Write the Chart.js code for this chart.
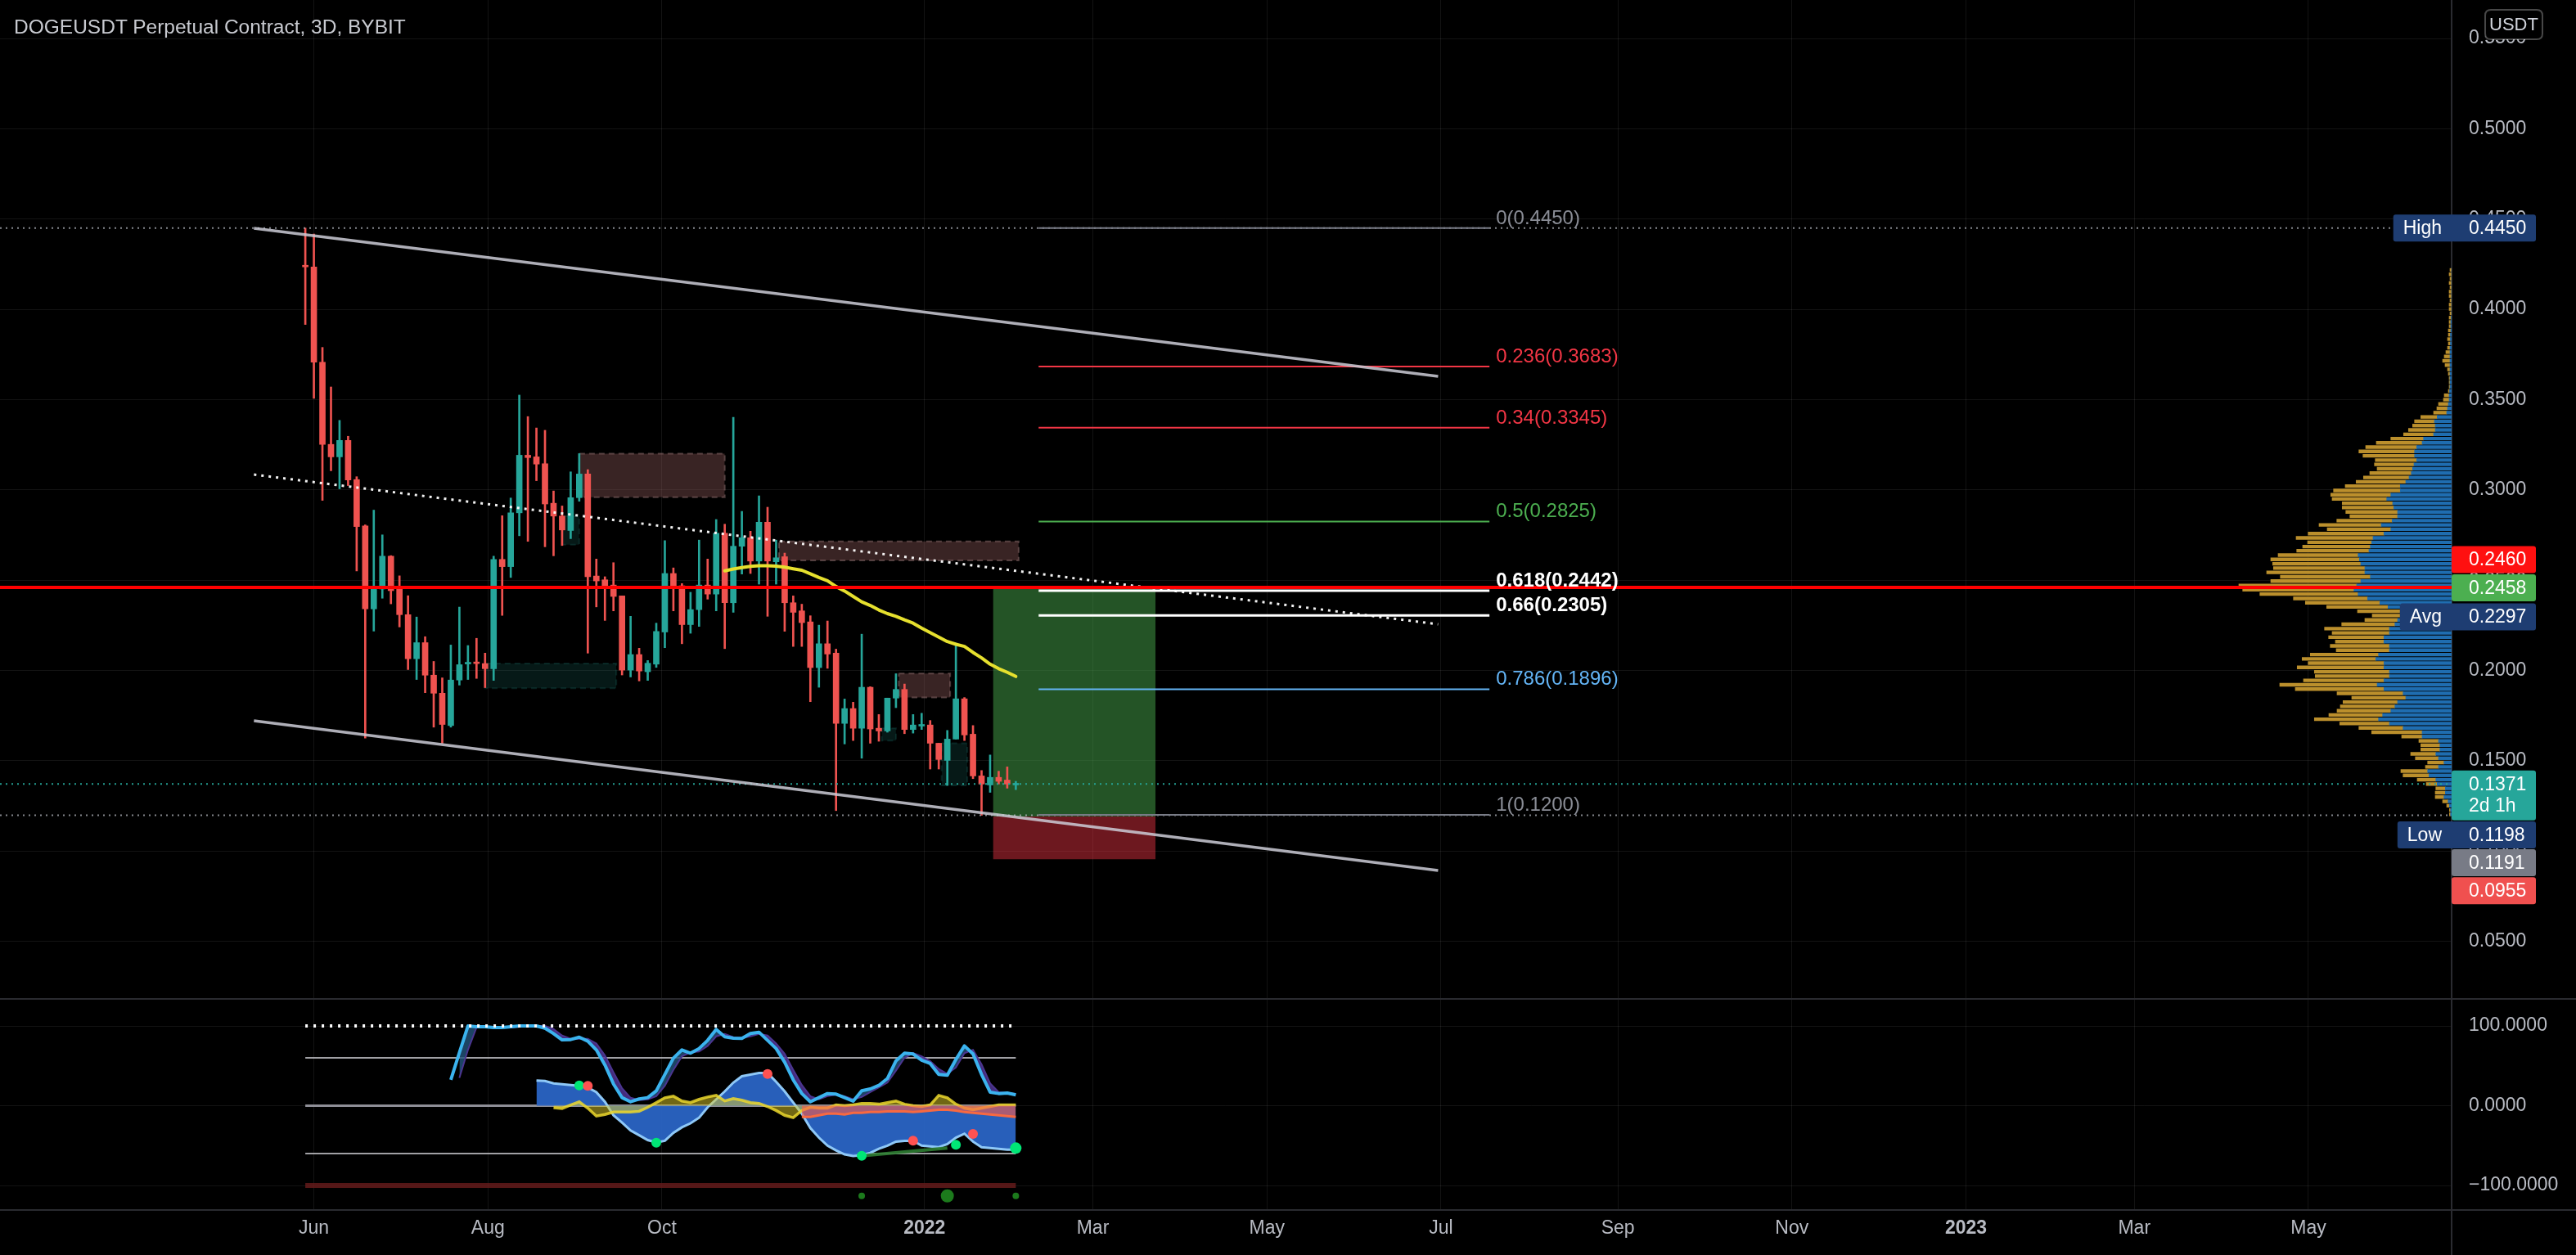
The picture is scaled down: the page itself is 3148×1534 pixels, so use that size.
<!DOCTYPE html>
<html><head><meta charset="utf-8"><title>DOGEUSDT Perpetual Contract, 3D, BYBIT</title>
<script src="https://cdn.jsdelivr.net/npm/chart.js@4.4.1/dist/chart.umd.min.js"></script>
<style>
html,body{margin:0;padding:0;background:#000;width:3148px;height:1534px;overflow:hidden;}
#wrap{position:relative;width:3148px;height:1534px;background:#000;}
canvas{position:absolute;left:0;}
#cPrice{top:0;}
#cInd{top:1221px;}
.sep{position:absolute;background:#2a2b30;}
#title{position:absolute;left:17px;top:19px;font:24.5px "Liberation Sans",Arial,sans-serif;color:#c8cad0;white-space:nowrap;}
</style></head>
<body>
<div id="wrap">
<canvas id="cPrice" width="3148" height="1221"></canvas>
<canvas id="cInd" width="3148" height="313"></canvas>
<div class="sep" style="left:0;top:1220px;width:3148px;height:2px"></div>
<div class="sep" style="left:0;top:1478px;width:3148px;height:2px"></div>
<div class="sep" style="left:2995px;top:1479px;width:2px;height:55px"></div>
<div id="title">DOGEUSDT Perpetual Contract, 3D, BYBIT</div>
</div>
<script>
// ================= DATA =================
const dates = ['2021-05-29','2021-06-01','2021-06-04','2021-06-07','2021-06-10','2021-06-13','2021-06-16','2021-06-19','2021-06-22','2021-06-25',
'2021-06-28','2021-07-01','2021-07-04','2021-07-07','2021-07-10','2021-07-13','2021-07-16','2021-07-19','2021-07-22','2021-07-25',
'2021-07-28','2021-07-31','2021-08-03','2021-08-06','2021-08-09','2021-08-12','2021-08-15','2021-08-18','2021-08-21','2021-08-24',
'2021-08-27','2021-08-30','2021-09-02','2021-09-05','2021-09-08','2021-09-11','2021-09-14','2021-09-17','2021-09-20','2021-09-23',
'2021-09-26','2021-09-29','2021-10-02','2021-10-05','2021-10-08','2021-10-11','2021-10-14','2021-10-17','2021-10-20','2021-10-23',
'2021-10-26','2021-10-29','2021-11-01','2021-11-04','2021-11-07','2021-11-10','2021-11-13','2021-11-16','2021-11-19','2021-11-22',
'2021-11-25','2021-11-28','2021-12-01','2021-12-04','2021-12-07','2021-12-10','2021-12-13','2021-12-16','2021-12-19','2021-12-22',
'2021-12-25','2021-12-28','2021-12-31','2022-01-03','2022-01-06','2022-01-09','2022-01-12','2022-01-15','2022-01-18','2022-01-21',
'2022-01-24','2022-01-27','2022-01-30','2022-02-02'];

const open = [.4240,.4235,.3707,.3252,.3183,.3274,.3057,.2800,.2341,.2451,
.2633,.2451,.2309,.2065,.2154,.1974,.1874,.1695,.1947,.2036,
.2045,.2038,.2010,.2615,.2575,.2873,.3192,.3183,.3145,.2926,
.2855,.2775,.2957,.3088,.2523,.2502,.2473,.2413,.2002,.2088,
.1993,.2035,.2213,.2537,.2469,.2254,.2337,.2473,.2423,.2760,
.2375,.2688,.2735,.2606,.2821,.2602,.2630,.2375,.2330,.2269,
.2016,.2148,.2096,.1707,.1789,.1680,.1907,.1680,.1665,.1847,
.1895,.1673,.1692,.1698,.1597,.1502,.1620,.1843,.1647,.1416,
.1366,.1408,.1393,.1366];
const high = [.4450,.4417,.3789,.3570,.3385,.3297,.3073,.2806,.2888,.2751,
.2636,.2524,.2414,.2296,.2187,.2050,.1959,.2141,.2351,.2138,
.2178,.2096,.2633,.2857,.2955,.3525,.3406,.3343,.3330,.2994,
.2911,.3100,.3201,.3112,.2617,.2519,.2597,.2413,.2300,.2123,
.2055,.2262,.2719,.2568,.2481,.2433,.2722,.2617,.2836,.2810,
.3402,.2881,.2771,.2967,.2904,.2722,.2650,.2413,.2367,.2303,
.2251,.2274,.2118,.1842,.1824,.2201,.1910,.1756,.1847,.1982,
.1925,.1756,.1763,.1723,.1597,.1668,.2152,.1850,.1695,.1446,
.1532,.1442,.1466,.1386];
const low = [.3916,.3507,.2942,.3106,.3006,.3024,.2551,.1626,.2218,.2400,
.2369,.2241,.2005,.1950,.1877,.1686,.1597,.1686,.1919,.1950,
.1956,.1905,.1945,.2305,.2515,.2746,.2715,.3051,.2685,.2635,
.2692,.2730,.2937,.2096,.2352,.2277,.2330,.1975,.1964,.1942,
.1945,.2017,.2126,.2330,.2148,.2206,.2244,.2395,.2330,.2121,
.2322,.2534,.2537,.2478,.2300,.2478,.2217,.2133,.2133,.1827,
.1907,.2012,.1224,.1593,.1612,.1514,.1597,.1608,.1658,.1794,
.1650,.1653,.1673,.1454,.1454,.1363,.1620,.1612,.1401,.1198,
.1325,.1371,.1348,.1340];
const close = [.4235,.3707,.3252,.3183,.3274,.3055,.2797,.2341,.2451,.2633,
.2442,.2309,.2065,.2154,.1974,.1874,.1701,.1947,.2032,.2045,
.2038,.2010,.2615,.2575,.2873,.3192,.3179,.3143,.2922,.2855,
.2778,.2957,.3088,.2519,.2496,.2469,.2410,.2002,.2088,.1997,
.2040,.2216,.2537,.2466,.2254,.2337,.2473,.2423,.2760,.2375,
.2688,.2735,.2606,.2821,.2606,.2624,.2375,.2322,.2265,.2016,
.2148,.2091,.1707,.1789,.1680,.1907,.1676,.1665,.1847,.1895,
.1673,.1698,.1698,.1597,.1507,.1620,.1843,.1643,.1416,.1371,
.1408,.1386,.1371,.1371];

// moving average (yellow), candles 50..84
const maStart = 50;
const maValues = [0.2552,0.2562,0.2570,0.2577,0.2580,0.2580,0.2578,0.2572,0.2563,0.2555,0.2535,0.2515,0.2497,0.2465,0.2440,0.2410,0.2380,0.2360,0.2335,0.2315,0.2300,0.2280,0.2262,0.2235,0.2210,0.2185,0.2160,0.2145,0.2133,0.2100,0.2070,0.2035,0.2010,0.1990,0.1967];

// x-axis tick labels
const tickDates = ['2021-06-01','2021-08-01','2021-10-01','2022-01-01','2022-03-01','2022-05-01','2022-07-01','2022-09-01','2022-11-01','2023-01-01','2023-03-01','2023-05-01'];
const tickLabels = ['Jun','Aug','Oct','2022','Mar','May','Jul','Sep','Nov','2023','Mar','May'];
const priceTicks = [0.05,0.10,0.15,0.20,0.25,0.30,0.35,0.40,0.45,0.50,0.55];
const oscTicks = [100,0,-100];

// channel drawing
const chStart = '2021-05-11', chEnd = '2022-06-30';
const chUpper = [0.4449, 0.3629];
const chLower = [0.1721, 0.0892];
const chMid = [0.3085, 0.2256];

// horizontal levels
const hlHigh = 0.4450, hlLow = 0.1198, hlLast = 0.1371, hlRed = 0.2460;

// fibonacci retracement
const fibStart = '2022-02-10', fibEnd = '2022-07-18';
const fibLevels = [0, 0.236, 0.34, 0.5, 0.618, 0.66, 0.786, 1];
const fibPrices = [0.4450, 0.3683, 0.3345, 0.2825, 0.2442, 0.2305, 0.1896, 0.1200];
const fibColors = ['#787b86','#f23645','#f23645','#4caf50','#ffffff','#ffffff','#64b5f6','#787b86'];

// long position tool
const posStart = '2022-01-25', posEnd = '2022-03-23';
const posEntry = 0.1191, posTarget = 0.2458, posStop = 0.0955;

// order blocks
const obStart = ['2021-09-02','2021-11-11','2021-12-23','2021-07-31','2021-08-27','2021-12-17','2022-01-07'];
const obEnd   = ['2021-10-23','2022-02-03','2022-01-10','2021-09-15','2021-09-02','2021-12-22','2022-01-16'];
const obTop   = [0.3201,0.2715,0.1983,0.2039,0.2855,0.1680,0.1597];
const obBottom= [0.2960,0.2609,0.1851,0.1901,0.2697,0.1612,0.1363];
const obKind  = ['supply','supply','supply','demand','demand','demand','demand'];

// volume profile (visible range) rows
const vpPrice = [0.4218,0.4194,0.4170,0.4146,0.4122,0.4098,0.4074,0.4050,0.4026,0.4002,0.3978,0.3954,0.3930,0.3907,0.3883,0.3859,0.3835,0.3811,0.3787,0.3763,0.3739,0.3715,0.3691,0.3667,0.3643,0.3619,0.3596,0.3572,0.3548,0.3524,0.3500,0.3476,0.3452,0.3428,
0.3404,0.3380,0.3356,0.3332,0.3308,0.3284,0.3261,0.3237,0.3213,0.3189,0.3165,0.3141,0.3117,0.3093,0.3069,0.3045,0.3021,0.2997,0.2973,0.2950,
0.2926,0.2902,0.2878,0.2854,0.2830,0.2806,0.2782,0.2758,0.2734,0.2710,0.2686,0.2663,0.2639,0.2615,0.2591,0.2567,0.2543,0.2519,0.2495,0.2471,
0.2447,0.2423,0.2399,0.2375,0.2352,0.2328,0.2304,0.2280,0.2256,0.2232,0.2208,0.2184,0.2160,0.2136,0.2112,0.2088,0.2064,0.2041,0.2017,0.1993,
0.1969,0.1945,0.1921,0.1897,0.1873,0.1849,0.1825,0.1801,0.1777,0.1754,0.1730,0.1706,0.1682,0.1658,0.1634,0.1610,0.1586,0.1562,0.1538,0.1514,
0.1490,0.1466,0.1443,0.1419,0.1395,0.1371,0.1347,0.1323,0.1299,0.1275,0.1251,0.1227,0.1203];
const vpTotal = [2,3,2,3,2,3,3,2,3,3,2,3,3,3,4,4,5,4,5,7,9,11,8,5,4,3,3,3,4,9,10,16,18,22,
37.7,45.3,47.7,52.7,58.7,74.3,92,105,113.3,108.3,93.3,94.3,91,100,107.7,116.7,130,144.3,147.7,146,
133.7,133.7,129.3,124.3,140.3,162,152,175.3,190,176,182,189.3,212,221,218.7,217.7,226,209.3,221,260,
255.3,234.3,193.3,178.7,152.7,115,97,106,134.3,155.3,146,150.3,142,148.3,141,172.7,182.7,175.3,188.7,167.7,
166.7,181,210,191,140,122,132.7,136,140,150,167.7,136.7,113.3,97.7,61,40,37.7,37.7,50,44.3,
29.3,32,62,59.3,42,31,19.3,20,20,11,6,2.7,2.7];
const vpUp = [0,0,0,0,0,0,0,0,0,0,0,0.5,1,1,1,1.5,1.5,1.5,2,2,2,2,2,2,2,2,2,2,2.5,3,3,4,5,6,
17.7,21,20,20,22,34.3,36,42.7,45.3,45.3,42.7,46,47.7,49.3,52,56,62.7,62.7,74.3,79.3,
72,70.7,66,66,72.7,86,74.3,82.7,96,97.7,99.3,101,114.3,112.7,111,106,106,99.3,111,116,
119.3,114.3,102.7,87.7,77.7,62.7,61,66,69.3,76,76,82.7,82.7,76,76,89.3,92.7,82.7,82.7,76,
76,82.7,91,82.7,59.3,56,66,69.3,74.3,84.3,89.3,76,59.3,36,36,16,14.3,14.3,19.3,16,
9.3,16,29.3,27.7,19.3,17.7,7.7,7.7,9.3,4.3,2.7,1.3,1.3];

// price-axis labels
const lblValue = [0.1371, 0.2458, 0.2297, 0.4450, 0.1198, 0.1191, 0.0955, 0.2460];
const lblColor = ['#26a69a','#4caf50','#1e3d72','#1e3d72','#1e3d72','#787b86','#f0504f','#ff1010'];
const lblTag   = ['','','Avg','High','Low','','',''];
const lblSub   = ['2d 1h','','','','','','',''];

// oscillator pane (values by candle number)
const wt1Start = 18;
const wt1 = [32.4,66.6,100,99,99,98,98,99,100,100,100,97.3,90.5,82.6,83,86,81,70,51.2,27.3,10.2,5,8.5,10.2,18.7,39.2,59.7,70,65.9,71.7,82,95.6,86.4,84.7,84.4,90.5,92.2,82,71.7,54.6,32.4,15.3,5,10.2,15.3,14.6,10.2,5.7,18.7,21.1,25.5,34.1,56.3,65.9,64.9,57,52.9,39.2,38.2,58,75.1,64.9,39.2,17,15.3,16,13.6];
const wt2Start = 19;
const wt2 = [35,70,98,99,99,98,98,99,100,100,100,96,88,84,84,84,78,63,42,22,10,7,8,12,25,45,62,67,68,75,87,90,86,85,87,90,88,78,65,45,26,12,8,12,14,12,8,11,17,23,29,44,60,66,62,56,46,40,48,66,70,52,28,17,16,15];
const mfStart = 28;
const mf = [31.7,31,28,27,26,25,23,17,5,-12,-21,-31,-37,-43,-46,-44,-34,-27,-22,-15,-2,8,18,29,37,39,41,41,30,18,4,-10,-28,-40,-50,-56,-61,-63,-62,-59,-54,-50,-45,-44,-44,-50,-51,-52,-48,-40,-35,-45,-52,-53,-54,-55,-55];
const rsiStart = 30;
const rsiArea = [-2.5,-3.5,1,5,-3,-13,-11,-8,-8,-8,-7,-2,4,10,12,6,4,8,11,13,6,9,7,4,3,-1,-6,-12,-15,-6,-2,-3,-3,1,0,1,3,3,2,4,6,2,0,-1,1,13,10,2,-3,-5,-3,-1,1,1,1];
const sellStart = 59;
const sellArea = [-14,-14,-12,-10,-10,-11,-9,-9,-8,-8,-7,-7,-7,-8,-7,-6,-5,-5,-6,-8,-9,-10,-11,-12,-13,-14];
const dotK = [33,34,42,55,66,72,77,79,84];
const dotV = [25.5,24.9,-46.3,39.9,-62.7,-43.9,-49,-35.3,-53.1];
const dotBuy = [true,false,true,false,true,false,true,false,true];
const divK = [66,76], divV = [-62.7,-53.1];
const sigK = [66,76,84], sigV = [-113,-113,-113], sigSize = [4,8,4];

// ================= HELPERS =================
const F = '"Liberation Sans", Arial, sans-serif';
const TXT = '#b8bbc3';
const GRID = 'rgba(255,255,255,0.075)';
const EPOCH = Date.UTC(2021,5,1);
const dayOf = s => { const [y,m,d] = s.split('-').map(Number); return (Date.UTC(y,m-1,d)-EPOCH)/86400000; };
const X_MIN = -110, X_MAX = 749.2;
const P_MAX = 0.5713, P_MIN = 0.0181;
const O_MAX = 133.9, O_MIN = -130.7;
const kx = k => dayOf(dates[k-1]);
const series = (start, arr) => arr.map((v,i)=>({x:kx(start+i), y:v}));
function seg(data, color, width, dash, order, extra){
  return Object.assign({type:'line', data, borderColor:color, borderWidth:width, borderDash:dash||[], pointRadius:0, fill:false, tension:0, order}, extra||{});
}
const xTicksBuild = s => { s.ticks = tickDates.map(d=>({value:dayOf(d)})); };
const noPad = s => { s.paddingTop = 0; s.paddingBottom = 0; s.paddingLeft = 0; s.paddingRight = 0; };

// ================= PRICE PANE =================
const up = close.map((c,i)=>c>=open[i]);
const candleCol = up.map(u=>u?'#26a69a':'#ef5350');
const ds = [];
// volume profile
ds.push({type:'bar', indexAxis:'y', xAxisID:'xv', yAxisID:'y', grouped:false, order:100, barThickness:3.7,
  data: vpPrice.map((p,i)=>({y:p, x:[0, vpUp[i]]})), backgroundColor:'#1f6db0', borderWidth:0});
ds.push({type:'bar', indexAxis:'y', xAxisID:'xv', yAxisID:'y', grouped:false, order:100, barThickness:3.7,
  data: vpPrice.map((p,i)=>({y:p, x:[vpUp[i], vpTotal[i]]})), backgroundColor:'#bb8f2c', borderWidth:0});
// long position
ds.push(seg([{x:dayOf(posStart),y:posTarget},{x:dayOf(posEnd),y:posTarget}], 'rgba(0,0,0,0)', 0, [], 90, {fill:{value:posEntry}, backgroundColor:'rgba(76,175,80,0.48)'}));
ds.push(seg([{x:dayOf(posStart),y:posStop},{x:dayOf(posEnd),y:posStop}], 'rgba(0,0,0,0)', 0, [], 90, {fill:{value:posEntry}, backgroundColor:'rgba(242,54,69,0.45)'}));
// order blocks
obStart.forEach((s,i)=>{
  const a = dayOf(s), b = dayOf(obEnd[i]);
  const sup = obKind[i]==='supply';
  ds.push(seg([{x:a,y:obTop[i]},{x:b,y:obTop[i]}], 'rgba(0,0,0,0)', 0, [], 80, {fill:{value:obBottom[i]}, backgroundColor: sup?'rgba(150,95,95,0.38)':'rgba(38,166,154,0.15)'}));
  ds.push(seg([{x:a,y:obTop[i]},{x:b,y:obTop[i]},{x:b,y:obBottom[i]},{x:a,y:obBottom[i]},{x:a,y:obTop[i]}],
    sup?'rgba(160,125,125,0.45)':'rgba(38,166,154,0.18)', 2, [7,5], 79));
});
// candles
ds.push({type:'bar', grouped:false, order:50, barThickness:2, data: dates.map((d,i)=>({x:dayOf(d), y:[low[i], high[i]]})), backgroundColor:candleCol, borderWidth:0});
ds.push({type:'bar', grouped:false, order:49, barThickness:7, minBarLength:2, data: dates.map((d,i)=>({x:dayOf(d), y:[open[i], close[i]]})), backgroundColor:candleCol, borderWidth:0});
// moving average
ds.push(seg(series(maStart, maValues), '#e6e02e', 4, [], 40, {borderJoinStyle:'round', borderCapStyle:'round'}));
// horizontal dotted levels
ds.push(seg([{x:X_MIN,y:hlHigh},{x:X_MAX,y:hlHigh}], 'rgba(178,181,190,0.75)', 2, [2,5], 30));
ds.push(seg([{x:X_MIN,y:hlLow},{x:X_MAX,y:hlLow}], 'rgba(178,181,190,0.75)', 2, [2,5], 30));
ds.push(seg([{x:X_MIN,y:hlLast},{x:X_MAX,y:hlLast}], 'rgba(38,166,154,0.95)', 2, [2,5], 30));
// fib lines
fibPrices.forEach((p,i)=>{
  ds.push(seg([{x:dayOf(fibStart),y:p},{x:dayOf(fibEnd),y:p}], fibColors[i], (i===4||i===5)?3:2, [], 25));
});
// channel
ds.push(seg([{x:dayOf(chStart),y:chUpper[0]},{x:dayOf(chEnd),y:chUpper[1]}], 'rgba(205,205,215,0.85)', 3.5, [], 20));
ds.push(seg([{x:dayOf(chStart),y:chLower[0]},{x:dayOf(chEnd),y:chLower[1]}], 'rgba(205,205,215,0.85)', 3.5, [], 20));
ds.push(seg([{x:dayOf(chStart),y:chMid[0]},{x:dayOf(chEnd),y:chMid[1]}], 'rgba(255,255,255,0.95)', 3, [3,6], 20));
// red horizontal
ds.push(seg([{x:X_MIN,y:hlRed},{x:X_MAX,y:hlRed}], '#ff0000', 4, [], 10));

function rr(ctx, x, y, w, h, r){
  ctx.beginPath();
  ctx.moveTo(x+r,y); ctx.lineTo(x+w-r,y); ctx.quadraticCurveTo(x+w,y,x+w,y+r);
  ctx.lineTo(x+w,y+h-r); ctx.quadraticCurveTo(x+w,y+h,x+w-r,y+h);
  ctx.lineTo(x+r,y+h); ctx.quadraticCurveTo(x,y+h,x,y+h-r);
  ctx.lineTo(x,y+r); ctx.quadraticCurveTo(x,y,x+r,y); ctx.closePath();
}

const fibTextPlugin = {
  id:'fibText',
  afterDatasetsDraw(chart){
    const {ctx, scales:{x, y}} = chart;
    ctx.save();
    ctx.textAlign = 'left'; ctx.textBaseline = 'alphabetic';
    const tx = x.getPixelForValue(dayOf(fibEnd)) + 8;
    fibPrices.forEach((p,i)=>{
      ctx.font = ((i===4||i===5) ? 'bold ' : '') + '24px ' + F;
      ctx.fillStyle = (i===0||i===7) ? '#8a8d96' : fibColors[i];
      ctx.fillText(String(fibLevels[i]) + '(' + p.toFixed(4) + ')', tx, y.getPixelForValue(p) - 5);
    });
    ctx.restore();
  }
};

const priceLabelPlugin = {
  id:'priceLabels',
  afterDraw(chart){
    const {ctx, chartArea:area, scales:{y}} = chart;
    const H = 33, W = 103, x0 = area.right;
    ctx.save();
    ctx.font = '23px ' + F;
    const placed = [];
    lblValue.forEach((v,i)=>{
      const ny = y.getPixelForValue(v);
      const h = lblSub[i] ? 61 : H;
      const free = t => placed.every(p => t + h <= p.top - 1 || t >= p.bottom + 1);
      let top = ny - H/2;
      for (let d=0; d<=400; d+=0.5){
        if (free(ny - H/2 - d)) { top = ny - H/2 - d; break; }
        if (free(ny - H/2 + d)) { top = ny - H/2 + d; break; }
      }
      placed.push({top, bottom: top + h});
      ctx.fillStyle = lblColor[i];
      rr(ctx, x0, top, W, h, 3); ctx.fill();
      ctx.fillStyle = '#ffffff';
      ctx.textAlign = 'left'; ctx.textBaseline = 'middle';
      ctx.fillText(v.toFixed(4), x0 + 21, top + H/2 + 1);
      if (lblSub[i]) ctx.fillText(lblSub[i], x0 + 21, top + H/2 + 27);
      if (lblTag[i]) {
        const tw = ctx.measureText(lblTag[i]).width;
        const bw = tw + 24;
        ctx.fillStyle = lblColor[i];
        rr(ctx, x0 - bw, top, bw + 4, h, 3); ctx.fill();
        ctx.fillStyle = '#ffffff';
        ctx.fillText(lblTag[i], x0 - bw + 12, top + H/2 + 1);
      }
    });
    // currency box
    ctx.fillStyle = '#000';
    rr(ctx, x0 + 41, 12, 70, 36, 7); ctx.fill();
    ctx.strokeStyle = 'rgba(255,255,255,0.28)'; ctx.lineWidth = 2; ctx.stroke();
    ctx.fillStyle = '#d1d4dc'; ctx.font = '22px ' + F; ctx.textAlign = 'center';
    ctx.fillText('USDT', x0 + 76, 31);
    ctx.restore();
  }
};

new Chart(document.getElementById('cPrice'), {
  type:'line',
  data:{datasets:ds},
  options:{
    responsive:false, animation:false, devicePixelRatio:1, events:[],
    layout:{padding:0, autoPadding:false},
    plugins:{legend:{display:false}, tooltip:{enabled:false}},
    scales:{
      x:{type:'linear', min:X_MIN, max:X_MAX, offset:false, afterBuildTicks:xTicksBuild,
         ticks:{display:false}, grid:{color:GRID, drawTicks:false, offset:false}, border:{display:false},
         afterFit:s=>{s.height=0; noPad(s);}},
      xv:{type:'linear', axis:'x', position:'top', display:false, reverse:true, min:0, max:2996, offset:false, grid:{offset:false}},
      y:{type:'linear', position:'right', min:P_MIN, max:P_MAX, offset:false,
         afterBuildTicks:s=>{s.ticks = priceTicks.map(v=>({value:v}));},
         ticks:{padding:0, color:TXT, font:{family:F, size:23}, callback:v=>Number(v).toFixed(4)},
         grid:{color:GRID, drawTicks:true, tickLength:21, tickColor:'rgba(0,0,0,0)', offset:false},
         border:{display:true, color:'#2a2b30', width:2},
         afterFit:s=>{s.width=152; noPad(s);}}
    }
  },
  plugins:[fibTextPlugin, priceLabelPlugin]
});

// ================= OSCILLATOR PANE =================
const ids = [];
const d1 = kx(1), d84 = kx(dates.length);
ids.push(seg([{x:d1,y:-100},{x:d84,y:-100}], 'rgba(105,28,28,0.8)', 6, [], 100));
ids.push(seg([{x:d1,y:60},{x:d84,y:60}], 'rgba(215,215,220,0.75)', 2, [], 99));
ids.push(seg([{x:d1,y:-60},{x:d84,y:-60}], 'rgba(215,215,220,0.75)', 2, [], 99));
ids.push(seg([{x:d1,y:0},{x:d84,y:0}], 'rgba(150,150,158,0.95)', 3, [], 98));
ids.push(seg(series(mfStart, mf), '#8ec8f7', 3, [], 60, {fill:'origin', backgroundColor:'rgba(42,100,196,0.95)'}));
ids.push(seg(series(rsiStart, rsiArea), 'rgba(235,215,45,0.85)', 3.5, [], 50, {fill:'origin', backgroundColor:'rgba(225,205,40,0.5)'}));
ids.push(seg(series(sellStart, sellArea), 'rgba(255,105,60,0.95)', 3, [], 45, {fill:'origin', backgroundColor:'rgba(255,90,70,0.6)'}));
const wt1Index = ids.length + 1;
ids.push(seg(series(wt2Start, wt2), '#4b3590', 2, [], 40, {fill:{target:wt1Index, above:'rgba(85,55,155,0.8)', below:'rgba(35,85,125,0.8)'}}));
ids.push(seg(series(wt1Start, wt1), '#3bb3ee', 4, [], 35, {borderJoinStyle:'round'}));
ids.push(seg([{x:d1,y:100},{x:d84,y:100}], '#ffffff', 4, [3,7], 5));
ids.push(seg(divK.map((k,i)=>({x:kx(k), y:divV[i]})), 'rgba(46,125,50,0.9)', 4, [], 20));
ids.push({type:'line', showLine:false, order:10, data: dotK.map((k,i)=>({x:kx(k), y:dotV[i]})),
  pointRadius: dotK.map((k,i)=> i===dotK.length-1 ? 7 : 6), pointBorderWidth:0,
  pointBackgroundColor: dotBuy.map(b=>b?'#00e676':'#ff5252')});
ids.push({type:'line', showLine:false, order:10, data: sigK.map((k,i)=>({x:kx(k), y:sigV[i]})),
  pointRadius: sigSize, pointBorderWidth:0, pointBackgroundColor:'#1c7a1c'});

new Chart(document.getElementById('cInd'), {
  type:'line',
  data:{datasets:ids},
  options:{
    responsive:false, animation:false, devicePixelRatio:1, events:[],
    layout:{padding:0, autoPadding:false},
    plugins:{legend:{display:false}, tooltip:{enabled:false}},
    scales:{
      x:{type:'linear', min:X_MIN, max:X_MAX, offset:false, afterBuildTicks:xTicksBuild,
         ticks:{autoSkip:false, maxRotation:0, padding:9, color:TXT,
                font:c=>({family:F, size:23, weight: /^\d{4}$/.test(tickLabels[c.index]) ? 'bold' : 'normal'}),
                callback:(v,i)=>tickLabels[i]},
         grid:{color:GRID, drawTicks:false, offset:false}, border:{display:false},
         afterFit:s=>{s.height=55; noPad(s);}},
      y:{type:'linear', position:'right', min:O_MIN, max:O_MAX, offset:false,
         afterBuildTicks:s=>{s.ticks = oscTicks.map(v=>({value:v}));},
         ticks:{padding:0, color:TXT, font:{family:F, size:23},
                callback:v=> v<0 ? '\u2212' + Math.abs(v).toFixed(4) : Number(v).toFixed(4)},
         grid:{color:GRID, drawTicks:true, tickLength:21, tickColor:'rgba(0,0,0,0)', offset:false},
         border:{display:true, color:'#2a2b30', width:2},
         afterFit:s=>{s.width=152; noPad(s);}}
    }
  }
});
</script>
</body></html>
